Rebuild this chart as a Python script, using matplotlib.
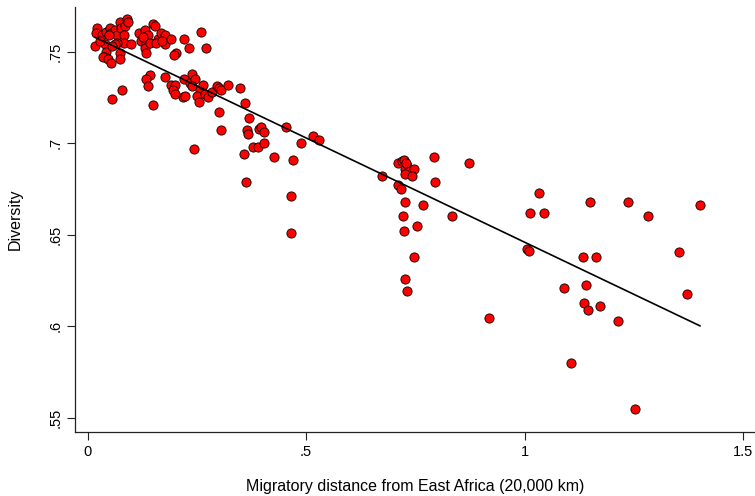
import numpy as np
import matplotlib
matplotlib.use("Agg")
import matplotlib.pyplot as plt

plt.rcParams['font.family'] = ['Liberation Sans', 'DejaVu Sans']

# Migratory distance from East Africa (20,000 km)
distance = [
    # cluster near Africa
    0.017, 0.022, 0.019, 0.033, 0.042, 0.051, 0.053, 0.063, 0.067, 0.074,
    0.076, 0.086, 0.090, 0.092, 0.083, 0.083, 0.067, 0.040, 0.063, 0.042,
    0.040, 0.035, 0.047, 0.053, 0.074, 0.074, 0.099, 0.118, 0.131, 0.122,
    0.134, 0.138, 0.131, 0.134, 0.143, 0.150, 0.154, 0.161, 0.168, 0.157,
    0.177, 0.177, 0.191, 0.221, 0.202, 0.198, 0.232, 0.259, 0.271, 0.056,
    0.127, 0.170, 0.049, 0.028,
    # Middle East / Europe band
    0.143, 0.134, 0.138, 0.079, 0.056, 0.150, 0.177, 0.191, 0.200, 0.195,
    0.200, 0.221, 0.218, 0.223, 0.239, 0.234, 0.246, 0.239, 0.257, 0.250,
    0.255, 0.269, 0.275, 0.264, 0.285, 0.296, 0.301, 0.305, 0.321, 0.349,
    0.360, 0.301, 0.369, 0.305, 0.365, 0.367, 0.392, 0.397, 0.404, 0.243,
    0.379, 0.390, 0.404, 0.358, 0.427, 0.470, 0.454, 0.488, 0.516, 0.529,
    0.362, 0.465, 0.465,
    # Asia cluster
    0.674, 0.710, 0.719, 0.724, 0.731, 0.726, 0.736, 0.747, 0.726, 0.742,
    0.793, 0.873, 0.795, 0.710, 0.717, 0.726, 0.767, 0.834, 0.722, 0.754,
    0.724, 0.747, 0.726, 0.731, 0.918, 0.728,
    # Oceania / Americas
    1.033, 1.012, 1.044, 1.005, 1.010, 1.150, 1.236, 1.282, 1.401, 1.353,
    1.134, 1.163, 1.090, 1.140, 1.372, 1.135, 1.144, 1.172, 1.213, 1.106,
    1.252,
]

diversity = [
    0.753, 0.763, 0.760, 0.759, 0.761, 0.763, 0.760, 0.762, 0.759, 0.766,
    0.763, 0.764, 0.768, 0.766, 0.759, 0.755, 0.755, 0.754, 0.754, 0.750,
    0.747, 0.747, 0.746, 0.744, 0.749, 0.746, 0.754, 0.760, 0.762, 0.756,
    0.755, 0.759, 0.752, 0.749, 0.755, 0.765, 0.764, 0.757, 0.760, 0.755,
    0.754, 0.759, 0.757, 0.757, 0.749, 0.748, 0.752, 0.761, 0.752, 0.753,
    0.758, 0.756, 0.759, 0.756,
    0.737, 0.735, 0.731, 0.729, 0.724, 0.721, 0.736, 0.732, 0.732, 0.729,
    0.727, 0.735, 0.725, 0.726, 0.738, 0.733, 0.735, 0.731, 0.729, 0.726,
    0.7225, 0.727, 0.725, 0.732, 0.728, 0.731, 0.730, 0.729, 0.732, 0.730,
    0.722, 0.717, 0.714, 0.707, 0.707, 0.705, 0.708, 0.709, 0.706, 0.697,
    0.698, 0.698, 0.700, 0.694, 0.6925, 0.691, 0.709, 0.700, 0.704, 0.702,
    0.679, 0.671, 0.651,
    0.682, 0.689, 0.690, 0.691, 0.6875, 0.686, 0.686, 0.686, 0.683, 0.682,
    0.6925, 0.689, 0.679, 0.677, 0.675, 0.668, 0.666, 0.660, 0.660, 0.655,
    0.652, 0.638, 0.626, 0.619, 0.6045, 0.689,
    0.673, 0.662, 0.662, 0.642, 0.641, 0.668, 0.668, 0.660, 0.666, 0.6405,
    0.638, 0.638, 0.621, 0.6225, 0.6175, 0.6125, 0.609, 0.611, 0.603, 0.580,
    0.555,
]

x_ticks = [0, 0.5, 1, 1.5]
x_tick_labels = ["0", ".5", "1", "1.5"]
y_ticks = [0.55, 0.6, 0.65, 0.7, 0.75]
y_tick_labels = [".55", ".6", ".65", ".7", ".75"]

x = np.array(distance)
y = np.array(diversity)

fig = plt.figure(figsize=(7.55, 4.96), dpi=100)
ax = fig.add_axes([75/755, 64/496, 680/755, 425/496])

ax.scatter(x, y, s=44, facecolor='#ff0000', edgecolor='black',
           linewidth=0.6, zorder=3)

slope, intercept = np.polyfit(x, y, 1)
xl = np.array([x.min(), x.max()])
ax.plot(xl, intercept + slope * xl, color='black', linewidth=1.2, zorder=4)

ax.set_xlim(-0.029, 1.527)
ax.set_ylim(0.5422, 0.7744)

ax.spines['top'].set_visible(False)
ax.spines['right'].set_visible(False)
for s in ('left', 'bottom'):
    ax.spines[s].set_linewidth(0.9)
    ax.spines[s].set_color('#222222')

ax.set_xticks(x_ticks)
ax.set_xticklabels(x_tick_labels)
ax.set_yticks(y_ticks)
ax.set_yticklabels(y_tick_labels, rotation=90, va='center')
ax.tick_params(axis='both', length=6, width=0.8, labelsize=10.5, pad=3,
               color='#222222')

ax.set_xlabel("Migratory distance from East Africa (20,000 km)", fontsize=11.5,
              va='center')
ax.xaxis.set_label_coords(0.5, -0.129)
ax.set_ylabel("Diversity", fontsize=11.5, va='center')
ax.yaxis.set_label_coords(-0.088, 0.5)

fig.savefig("out.png", dpi=100)
